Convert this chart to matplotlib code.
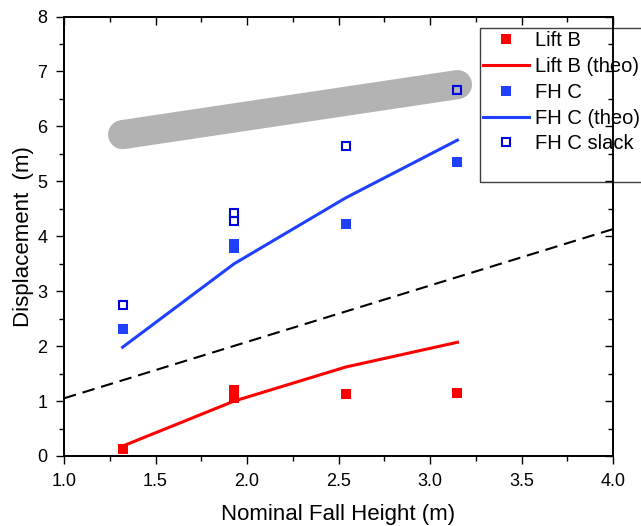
import numpy as np
import matplotlib
matplotlib.use('Agg')
from matplotlib import pyplot as plt
from matplotlib.lines import Line2D

plt.rcParams['font.family'] = ['Liberation Sans', 'DejaVu Sans']

# nominal fall heights
heights = [1.32, 1.93, 1.93, 2.54, 3.15]

# measured displacements
lift_b = [0.12, 1.2, 1.06, 1.12, 1.15]
fh_c = [2.31, 3.85, 3.78, 4.23, 5.35]
fh_c_slack = [2.75, 4.42, 4.28, 5.64, 6.67]

# theoretical curves
theo_x = [1.32, 1.93, 2.54, 3.15]
lift_b_theo = [0.18, 1.0, 1.62, 2.07]
fh_c_theo = [1.98, 3.5, 4.7, 5.75]

# reference dashed line and highlight band
ref_x = [1.0, 4.0]
ref_y = [1.05, 4.13]
band_x = [1.32, 3.15]
band_y = [5.85, 6.76]

fig = plt.figure(figsize=(6.41, 5.26), dpi=100)
ax = fig.add_axes([64/641, 1-456/526, (613-64)/641, (456-16.5)/526])

ax.plot(band_x, band_y, color='#b3b3b3', lw=21, solid_capstyle='round', zorder=1)
ax.plot(ref_x, ref_y, color='black', lw=1.5, ls=(0, (6, 3.3)), zorder=2)

ax.plot(heights, lift_b, 's', color='#ff0000', ms=7.2, mew=0, label='Lift B', zorder=4)
ax.plot(theo_x, lift_b_theo, '-', color='#ff0000', lw=2.2, label='Lift B (theo)', zorder=3)
ax.plot(heights, fh_c, 's', color='#2040ff', ms=7.2, mew=0, label='FH C', zorder=4)
ax.plot(theo_x, fh_c_theo, '-', color='#2040ff', lw=2.2, label='FH C (theo)', zorder=3)
ax.plot(heights, fh_c_slack, 's', mfc='none', mec='#0000e6', ms=5.2, mew=1.5,
        label='FH C slack', zorder=4)

ax.set_xlim(1.0, 4.0)
ax.set_ylim(0, 8)
ax.set_xticks(np.arange(1.0, 4.01, 0.5))
ax.set_xticks(np.arange(1.25, 4.0, 0.5), minor=True)
ax.set_yticks(np.arange(0, 9, 1))
ax.set_yticks(np.arange(0.5, 8, 1), minor=True)
ax.set_xticklabels(['1.0', '1.5', '2.0', '2.5', '3.0', '3.5', '4.0'])

ax.tick_params(which='both', direction='out', labelsize=13, width=1, pad=6)
ax.tick_params(which='major', length=6)
ax.tick_params(which='minor', length=3.5)

# inward ticks on top and right
ax2 = ax.twinx()
ax2.set_ylim(0, 8)
ax2.set_yticks(np.arange(0, 9, 1))
ax2.set_yticks(np.arange(0.5, 8, 1), minor=True)
ax2.tick_params(which='both', direction='in', labelright=False, width=1)
ax2.tick_params(which='major', length=6)
ax2.tick_params(which='minor', length=3.5)
ax3 = ax.twiny()
ax3.set_xlim(1.0, 4.0)
ax3.set_xticks(np.arange(1.0, 4.01, 0.5))
ax3.set_xticks(np.arange(1.25, 4.0, 0.5), minor=True)
ax3.tick_params(which='both', direction='in', labeltop=False, width=1)
ax3.tick_params(which='major', length=6)
ax3.tick_params(which='minor', length=3.5)

for a in (ax, ax2, ax3):
    for s in a.spines.values():
        s.set_linewidth(1.1)

ax.set_xlabel('Nominal Fall Height (m)', fontsize=16, labelpad=10)
ax.set_ylabel('Displacement  (m)', fontsize=16, labelpad=2)

handles, labels = ax.get_legend_handles_labels()
handles.append(Line2D([], [], color='none'))
labels.append(' ')
leg = ax.legend(handles, labels, loc='upper left',
                bbox_to_anchor=(480/641, 1-28/526),
                bbox_transform=fig.transFigure, fontsize=14.5, frameon=True,
                fancybox=False, edgecolor='#404040', framealpha=1,
                borderpad=0.15, labelspacing=0.34, handlelength=2.3,
                handletextpad=0.3, borderaxespad=0)
leg.get_frame().set_linewidth(1.0)
leg.set_zorder(10)

fig.savefig('out.png', dpi=100)
